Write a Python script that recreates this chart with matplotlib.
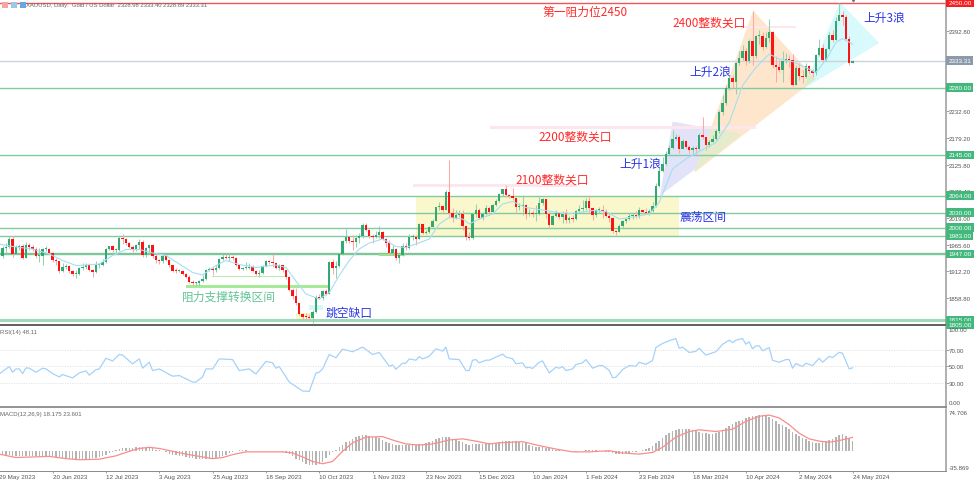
import matplotlib
matplotlib.use('Agg')
import matplotlib.pyplot as plt
from matplotlib.patches import Polygon, Rectangle
import numpy as np

plt.rcParams['font.family'] = ['Liberation Sans', 'DejaVu Sans']
CJK = ['Noto Sans CJK SC', 'DejaVu Sans']

# daily closes, one week per row
closes = [
    1943,1959,1962,1978,1948, 1962,1963,1940,1965,1961, 1957,1943,1943,1958,1958,
    1950,1936,1933,1913,1921, 1923,1913,1907,1908,1919, 1921,1925,1915,1911,1925,
    1925,1932,1957,1963,1955, 1955,1979,1977,1969,1962, 1955,1965,1972,1945,1959,
    1965,1944,1936,1934,1943, 1936,1925,1914,1913,1914, 1907,1902,1892,1889,1889,
    1894,1897,1915,1917,1915, 1920,1937,1942,1940,1940, 1939,1926,1917,1919,1919,
    1922,1913,1908,1910,1924, 1934,1931,1930,1920,1925, 1916,1901,1875,1864,1849,
    1828,1822,1821,1820,1832, 1861,1860,1874,1868,1932, 1919,1923,1947,1974,1981,
    1973,1971,1979,1984,2006, 1996,1983,1982,1985,1992, 1978,1969,1950,1958,1939,
    1946,1963,1959,1981,1981, 1977,2007,1990,1992,2001, 2014,2041,2044,2036,2071,
    2029,2019,2025,2028,2004, 1982,1980,2027,2036,2019, 2028,2040,2031,2045,2053,
    2067,2077,2065,2063, 2059,2042,2043,2045, 2028,2029,2027,2028,2049,
    2057,2028,2006,2023,2029, 2021,2029,2015,2020,2018, 2033,2037,2039,2054,2039,
    2025,2035,2035,2034,2024, 2020,1993,1992,2004,2013, 2017,2024,2025,2024,2035,
    2031,2030,2034,2044,2083, 2114,2128,2148,2160,2178, 2182,2158,2174,2162,2155,
    2160,2157,2186,2181,2165, 2171,2178,2194,2232, 2250,2279,2299,2291,2329,
    2339,2353,2333,2373,2344, 2383,2383,2361,2379,2391, 2326,2322,2316,2333,2337,
    2335,2286,2320,2303,2301, 2323,2314,2309,2346,2360, 2336,2357,2386,2376,2414,
    2425,2421,2378,2329,2333,
]
highs = [
    1950,1964,1970,1983,1983, 1965,1968,1968,1971,1970, 1965,1962,1960,1960,1963,
    1960,1952,1939,1933,1930, 1927,1925,1916,1915,1921, 1930,1930,1930,1918,1933,
    1930,1938,1960,1964,1965, 1960,1984,1987,1980,1972, 1965,1967,1978,1975,1961,
    1968,1968,1948,1938,1947, 1945,1937,1926,1920,1918, 1915,1910,1905,1895,1892,
    1896,1905,1918,1922,1921, 1925,1939,1948,1948,1950, 1945,1941,1926,1922,1932,
    1930,1926,1915,1915,1925, 1936,1936,1947,1932,1927, 1926,1916,1903,1880,1879,
    1850,1829,1830,1828,1836, 1865,1868,1875,1878,1933, 1937,1933,1950,1975,1997,
    1982,1985,1986,1990,2009, 2009,1998,1988,1994,2004, 1994,1980,1975,1965,1960,
    1948,1970,1970,1988,1988, 1985,2009,2008,1995,2003, 2017,2042,2052,2045,2075,
    2135,2040,2035,2035,2035, 2005,1992,2029,2048,2040, 2032,2046,2044,2048,2058,
    2070,2078,2085,2068, 2079,2060,2049,2065, 2047,2038,2036,2045,2062,
    2060,2057,2032,2025,2036, 2032,2034,2037,2023,2025, 2036,2045,2056,2060,2065,
    2040,2038,2041,2045,2037, 2030,2022,1995,2008,2015, 2019,2030,2030,2034,2041,
    2036,2040,2037,2052,2089, 2120,2142,2153,2166,2195, 2188,2185,2178,2175,2165,
    2164,2163,2190,2222,2182, 2176,2185,2197,2235, 2266,2285,2304,2305,2331,
    2353,2365,2360,2378,2434, 2385,2395,2392,2392,2418, 2394,2344,2335,2353,2350,
    2345,2347,2325,2330,2315, 2330,2326,2318,2348,2378, 2367,2360,2392,2396,2422,
    2450,2433,2425,2384,2336,
]
lows = [
    1932,1940,1950,1960,1942, 1947,1955,1937,1940,1955, 1954,1940,1932,1926,1953,
    1948,1932,1925,1910,1911, 1918,1910,1903,1900,1906, 1915,1918,1913,1902,1909,
    1920,1923,1930,1956,1951, 1948,1953,1968,1966,1960, 1952,1953,1958,1942,1942,
    1950,1940,1930,1928,1930, 1934,1922,1912,1910,1911, 1905,1900,1890,1885,1883,
    1884,1892,1896,1913,1905, 1911,1918,1935,1937,1933, 1936,1924,1915,1916,1917,
    1918,1911,1905,1901,1908, 1922,1928,1921,1917,1915, 1912,1898,1873,1858,1846,
    1825,1815,1817,1813,1810, 1830,1858,1856,1865,1868, 1908,1900,1922,1945,1970,
    1969,1955,1962,1970,1980, 1994,1980,1970,1980,1980, 1975,1962,1948,1946,1936,
    1930,1944,1955,1957,1976, 1965,1977,1988,1988,1990, 2001,2014,2035,2031,2036,
    2020,2012,2018,2022,1995, 1975,1975,1977,2022,2017, 2015,2025,2025,2032,2043,
    2052,2064,2062,2060, 2055,2032,2035,2025, 2017,2023,2022,2014,2026,
    2045,2020,2002,2005,2021, 2018,2010,2010,2010,2012, 2016,2030,2032,2035,2030,
    2015,2022,2030,2020,2022, 2012,1990,1985,1991,2000, 2010,2015,2018,2020,2020,
    2027,2028,2025,2032,2042, 2082,2112,2125,2145,2158, 2175,2150,2157,2157,2150,
    2145,2146,2155,2178,2155, 2162,2172,2176,2190, 2226,2245,2275,2280,2268,
    2325,2336,2325,2330,2325, 2340,2367,2355,2360,2372, 2320,2292,2312,2292,2330,
    2322,2283,2285,2295,2290, 2300,2310,2302,2306,2343, 2331,2333,2355,2372,2375,
    2415,2406,2373,2325,2329,
]
first_open = 1945

ma_bars = [0,4,10,15,19,23,26,30,34,38,42,46,50,54,58,61,65,68,72,77,83,86,89,92,96,99,102,
           105,108,111,115,119,122,125,129,132,135,139,141,144,148,151,154,158,164,170,174,
           178,182,186,191,195,198,202,206,210,215,219,223,227,231,234,238,242,245,248,251,253,256]
ma_vals = [1967,1962,1957,1947,1934,1924,1925,1927,1944,1956,1956,1949,1944,1927,1910,1905,1924,1934,
           1926,1920,1925,1920,1893,1867,1857,1870,1904,1934,1957,1969,1977,1962,1960,1967,1977,2007,
           2020,2017,2007,2017,2027,2047,2052,2040,2034,2027,2030,2034,2032,2017,2022,2027,2050,2117,
           2137,2152,2170,2210,2284,2320,2347,2337,2332,2320,2310,2335,2370,2378,2367]

rsi_bars = [0,3,4,5,6,7,8,9,11,13,14,16,18,19,22,24,26,27,29,30,32,34,36,37,40,42,43,45,46,48,52,54,
            58,59,61,62,64,66,70,72,75,77,80,82,83,84,87,91,93,94,95,96,97,99,101,103,106,109,112,114,
            117,118,119,121,122,123,125,126,127,129,131,133,134,135,138,140,141,142,143,144,146,147,
            151,152,154,155,157,158,159,160,162,163,165,167,168,169,170,172,173,175,176,178,180,181,
            183,184,185,187,189,191,192,194,196,197,199,201,203,204,205,207,209,210,212,215,217,219,
            220,221,223,224,225,226,227,228,229,231,232,234,236,237,238,239,241,242,244,246,247,249,
            250,252,253,255,256]
rsi_vals = [40.6,49.6,42.6,46.7,46.7,41,48,47.6,42.6,47.6,46.7,41,36.9,39.8,35.7,41.8,44.3,39,45.9,46.7,
            59.8,56.5,64.5,63.7,52.9,59,47.6,55,44.7,46.7,37.8,38.6,30.6,30.6,36.9,46.7,46.7,59,58.2,44.7,
            46.7,40.6,55.9,54.2,47.6,49.6,30.6,19.6,19.2,30.6,41.6,42.8,46.7,64.5,60.4,71,67.8,73.5,64.5,
            66.9,50,51.6,46.3,53.7,53.7,59,57.4,61.8,59,62.3,71.4,68.6,73.5,59,58.2,44.7,44.7,57.4,58.2,
            54.2,57.4,57.4,64.9,61.2,59.2,53,54.2,48,48.8,47.2,54.9,56.5,41.8,48.8,47.6,49.6,44.7,46.7,52,
            54.2,58.2,47.6,50.8,50.8,45,36,36.5,45.9,50.8,50,54.9,52.4,57,73,78,81.3,84,72,73.5,66.9,68.2,
            72,63.7,67.8,76.9,82,79,82,84,77,80,71.4,75,75,69,72.9,57.3,54.9,58.2,58.2,47.6,53.3,49.6,53.7,
            50.8,59.8,54.9,62.2,60.6,67.1,65.9,46.7,48.1]

macd_hist = [
    -6,-7,-7,-8,-9,-9,-9,-10,-10,-10,-10,-10,-11,-10,-10,-10,
    -10,-11,-11,-12,-13,-14,-15,-15,-15,-15,-15,-14,-13,-12,-11,-9,
    -7,-4,-2,1,3,4,5,5,5,6,6,6,5,5,4,2,
    1,-1,-3,-5,-7,-8,-9,-10,-11,-12,-13,-14,-14,-14,-14,-14,
    -13,-12,-11,-9,-7,-4,-2,0,1,1,1,0,0,0,-1,-1,
    0,0,0,0,-1,-2,-4,-6,-9,-14,-17,-20,-23,-25,-26,-26,
    -24,-20,-13,-8,-3,2,6,11,15,18,21,24,26,27,27,26,
    25,24,22,19,16,13,12,11,10,10,10,10,11,11,12,12,
    13,15,17,20,22,24,25,24,21,19,18,15,12,11,12,12,
    12,12,13,13,13,14,16,17,18,18,18,17,15,14,13,10,
    8,7,6,6,5,4,3,2,1,0,0,-1,-1,-2,-1,0,
    1,2,1,1,0,0,-2,-3,-4,-5,-5,-5,-4,-4,-3,-2,
    -1,1,3,5,8,13,18,23,28,32,35,37,38,39,39,38,
    36,35,33,32,31,30,30,32,33,36,40,43,47,50,53,55,
    58,60,61,62,63,64,63,60,56,52,48,45,42,38,34,30,
    26,23,20,18,15,14,14,15,17,19,21,25,28,30,26,22,18,
]
signal_bars = [0,5,10,15,20,24,30,35,39,42,45,48,52,56,60,64,67,70,74,80,85,88,91,94,97,100,103,106,110,
               115,118,122,126,130,135,139,143,147,150,157,162,167,172,177,183,187,192,196,199,203,207,
               210,215,220,224,228,231,234,237,240,243,246,249,252,255,256]
signal_vals = [-6,-12,-11,-10,-14,-16,-15,-9,-1,4,6,4,-1,-6,-10,-14,-12,-7,-2,-2,-2,-4,-11,-19,-23,-19,-1,
               14,24,25,19,12,10,12,19,21,17,12,14,16,9,3,-2,-2,0,-4,-6,-3,6,24,34,37,34,38,52,61,63,58,
               46,31,21,17,15,18,22,23.6]

date_labels = ['29 May 2023','20 Jun 2023','12 Jul 2023','3 Aug 2023','25 Aug 2023','18 Sep 2023',
               '10 Oct 2023','1 Nov 2023','23 Nov 2023','15 Dec 2023','10 Jan 2024','1 Feb 2024',
               '23 Feb 2024','18 Mar 2024','10 Apr 2024','2 May 2024','24 May 2024']
price_ticks = [2446.2,2392.8,2339.4,2286.0,2232.6,2179.2,2125.8,2072.4,2019.0,1965.6,1912.2,1858.8]
green_levels = [2280,2145,2064,2030,2000,1983]

W, H = 975, 481
fig = plt.figure(figsize=(W/100, H/100), dpi=100, facecolor='white')

def pane(top, bottom):
    return fig.add_axes([-0.7/W, 1-bottom/H, 946.2/W, (bottom-top)/H])

ax = pane(0, 326)
ax_rsi = pane(327.3, 408)
ax_macd = pane(409.5, 472)

XMAX = 283.9
def px(x, y):
    # screen position of the drawn notes -> bar index, price
    return (x+0.7)/3.3333, 2450-(y-3.5)*2

def poly(points, color, z=1):
    ax.add_patch(Polygon([px(*p) for p in points], closed=True, fc=color, ec='none', zorder=z))

def band(x0, x1, y0, y1, color, z=1.5):
    a, b = px(x0, y1), px(x1, y0)
    ax.add_patch(Rectangle(a, b[0]-a[0], b[1]-a[1], fc=color, ec='none', zorder=z))

def note(x, y, s, color):
    i, p = px(x, y)
    ax.text(i, p, s, color=color, fontsize=8.5, family=CJK, ha='center', va='center', zorder=6)

# wave triangles and zones
poly([(672.7,122.7),(741.7,135),(660,196.7)], '#e2e2f8')
poly([(753.3,11.7),(815.7,80),(695,173.3)], '#fde6cc', 1.1)
poly([(840,3.3),(879.3,44),(803.3,90)], '#d8fafc', 1.2)
poly([(711,129.3),(741.7,135),(694,173)], '#e6eccb', 1.3)
poly([(810,74.7),(815.7,80),(803.3,89.3)], '#dcecc8', 1.3)
band(416, 679.3, 196.7, 237, '#f9f7cb')
band(413, 577, 184.5, 187.5, '#fde6ee')
band(490, 756, 127.3, 130, '#fde6ee')
band(741, 796, 26.7, 29.3, '#fde6ee')
band(186, 328, 286, 288.5, '#a6ec98')
band(212, 285, 276.7, 277.7, '#b4ecaa')
band(379, 405, 255, 257, '#9fdf8f', 3)
band(309, 323, 306, 311, '#d8f8f8')
band(296, 313, 314, 321, '#fbf6c8')

ax.axhline(2450, color='#f25555', lw=1.0, zorder=2)
ax.axhline(2333.31, color='#cbd2da', lw=1.0, zorder=2)
for lv in green_levels:
    ax.axhline(lv, color='#80cc9f', lw=1.0, zorder=2)
ax.axhline(1947, color='#7cc79a', lw=1.7, zorder=2)
ax.axhline(1815, color='#a0dab8', lw=2.2, zorder=2)

# candles
bars = np.arange(len(closes))
closes = np.array(closes, float)
highs = np.array(highs, float)
lows = np.array(lows, float)
opens = np.r_[first_open, closes[:-1]]
up = closes >= opens
ax.vlines(bars[up], lows[up], highs[up], colors='#94d3ad', lw=0.75, zorder=3)
ax.vlines(bars[~up], lows[~up], highs[~up], colors='#ffa8a8', lw=0.75, zorder=3)
body = np.maximum(np.abs(closes-opens), 2)
ax.bar(bars[up], body[up], bottom=np.minimum(opens, closes)[up], width=0.68, color='#33a873', lw=0, zorder=4)
ax.bar(bars[~up], body[~up], bottom=np.minimum(opens, closes)[~up], width=0.68, color='#fa1414', lw=0, zorder=4)
ax.plot(ma_bars, ma_vals, color='#a5def5', lw=0.8, zorder=5)
ax.plot([256], [2455], marker='v', ms=2, color='#777777', zorder=5, clip_on=False)

note(585, 12, '第一阻力位2450', '#ff2a2a')
note(709, 23, '2400整数关口', '#ff2a2a')
note(884, 18, '上升3浪', '#2a35e6')
note(710.5, 72, '上升2浪', '#2a35e6')
note(640, 164, '上升1浪', '#2a35e6')
note(575.5, 137, '2200整数关口', '#ff2a2a')
note(552, 180, '2100整数关口', '#ff2a2a')
note(703, 217, '震荡区间', '#2a35e6')
note(349, 313, '跳空缺口', '#2a35e6')
note(229, 297, '阻力支撑转换区间', '#63c494')

ax.set_xlim(0, XMAX)
ax.set_ylim(1805, 2457)
ax.set_xticks([])
ax.yaxis.tick_right()
ax.set_yticks(price_ticks)
ax.set_yticklabels([f'{t:.2f}' for t in price_ticks])
ax.tick_params(axis='y', length=2, width=0.5, color='#777', labelsize=4.4, labelcolor='#555', pad=0.3)

# value boxes on the price scale
def price_box(val, bg):
    ax.text(1.0030, val, f'{val:.2f}', transform=ax.get_yaxis_transform(), color='white', fontsize=4.6,
            ha='left', va='center', clip_on=False, zorder=8,
            bbox=dict(boxstyle='square,pad=0.3', fc=bg, ec='none'))

price_box(2450, '#f51f1f')
price_box(2333.31, '#8c9bab')
for lv in green_levels + [1947, 1815, 1805]:
    price_box(lv, '#42b87c')

for side in ['top', 'left']:
    ax.spines[side].set_visible(False)
ax.spines['bottom'].set_color('#444444')
ax.spines['bottom'].set_linewidth(1.2)
ax.spines['right'].set_color('#9a9a9a')
ax.spines['right'].set_linewidth(1.1)

ax.text(27/946.2, 1-6/326, 'XAUUSD, Daily:  Gold / US Dollar  2328.98 2333.40 2328.89 2333.31',
        transform=ax.transAxes, fontsize=4.2, color='#666', va='center', zorder=7)
for x0, c in [(2, '#f2a8a0'), (11, '#9fc6ea'), (20, '#6aa6e0')]:
    fig.add_artist(Rectangle((x0/W, 1-9/H), 5.5/W, 6/H, fc=c, ec='none', transform=fig.transFigure))

# RSI
ax_rsi.plot(rsi_bars, rsi_vals, color='#a4d2fb', lw=0.9)
for lv in [70, 50, 30]:
    ax_rsi.axhline(lv, color='#d5d5d5', lw=0.5, ls=(0, (1.5, 2)))
ax_rsi.set_xlim(0, XMAX)
ax_rsi.set_ylim(0, 99)
ax_rsi.set_xticks([])
ax_rsi.yaxis.tick_right()
ax_rsi.set_yticks([70, 50, 30])
ax_rsi.set_yticklabels(['70.00', '50.00', '30.00'])
ax_rsi.tick_params(axis='y', length=2, width=0.5, color='#777', labelsize=4.4, labelcolor='#555', pad=0.3)
ax_rsi.text(1.0030, 98.5, '100.00', transform=ax_rsi.get_yaxis_transform(), fontsize=4.4, color='#555', va='top', clip_on=False)
ax_rsi.text(1.0030, 2, '0.00', transform=ax_rsi.get_yaxis_transform(), fontsize=4.4, color='#555', va='bottom', clip_on=False)
ax_rsi.text(0.0008, 0.935, 'RSI(14) 48.11', transform=ax_rsi.transAxes, fontsize=4.3, color='#666', va='center')
for side in ['top', 'left']:
    ax_rsi.spines[side].set_visible(False)
ax_rsi.spines['bottom'].set_color('#8a8a8a')
ax_rsi.spines['bottom'].set_linewidth(1.3)
ax_rsi.spines['right'].set_color('#9a9a9a')
ax_rsi.spines['right'].set_linewidth(1.1)

# MACD
ax_macd.bar(np.arange(len(macd_hist)), macd_hist, width=0.45, color='#b4b4b4', lw=0)
ax_macd.plot(signal_bars, signal_vals, color='#fa8c8c', lw=0.9)
ax_macd.set_xlim(0, XMAX)
ax_macd.set_ylim(-35.869, 74.706)
ax_macd.yaxis.tick_right()
ax_macd.set_yticks([])
ax_macd.set_xticks(np.arange(len(date_labels))*16)
ax_macd.set_xticklabels(date_labels, ha='left')
ax_macd.tick_params(axis='x', length=1.5, width=0.5, color='#777', labelsize=4.5, labelcolor='#555', pad=0.4)
ax_macd.text(1.0030, 0.94, '74.706', transform=ax_macd.transAxes, fontsize=4.4, color='#555', va='center', clip_on=False)
ax_macd.text(1.0030, 0.055, '-35.869', transform=ax_macd.transAxes, fontsize=4.4, color='#555', va='center', clip_on=False)
ax_macd.text(0.0008, 0.92, 'MACD(12,26,9) 18.175 23.601', transform=ax_macd.transAxes, fontsize=4.3, color='#666', va='center')
for side in ['top', 'left']:
    ax_macd.spines[side].set_visible(False)
ax_macd.spines['bottom'].set_color('#8a8a8a')
ax_macd.spines['bottom'].set_linewidth(0.7)
ax_macd.spines['right'].set_color('#9a9a9a')
ax_macd.spines['right'].set_linewidth(1.1)

fig.savefig('out.png', dpi=100)
